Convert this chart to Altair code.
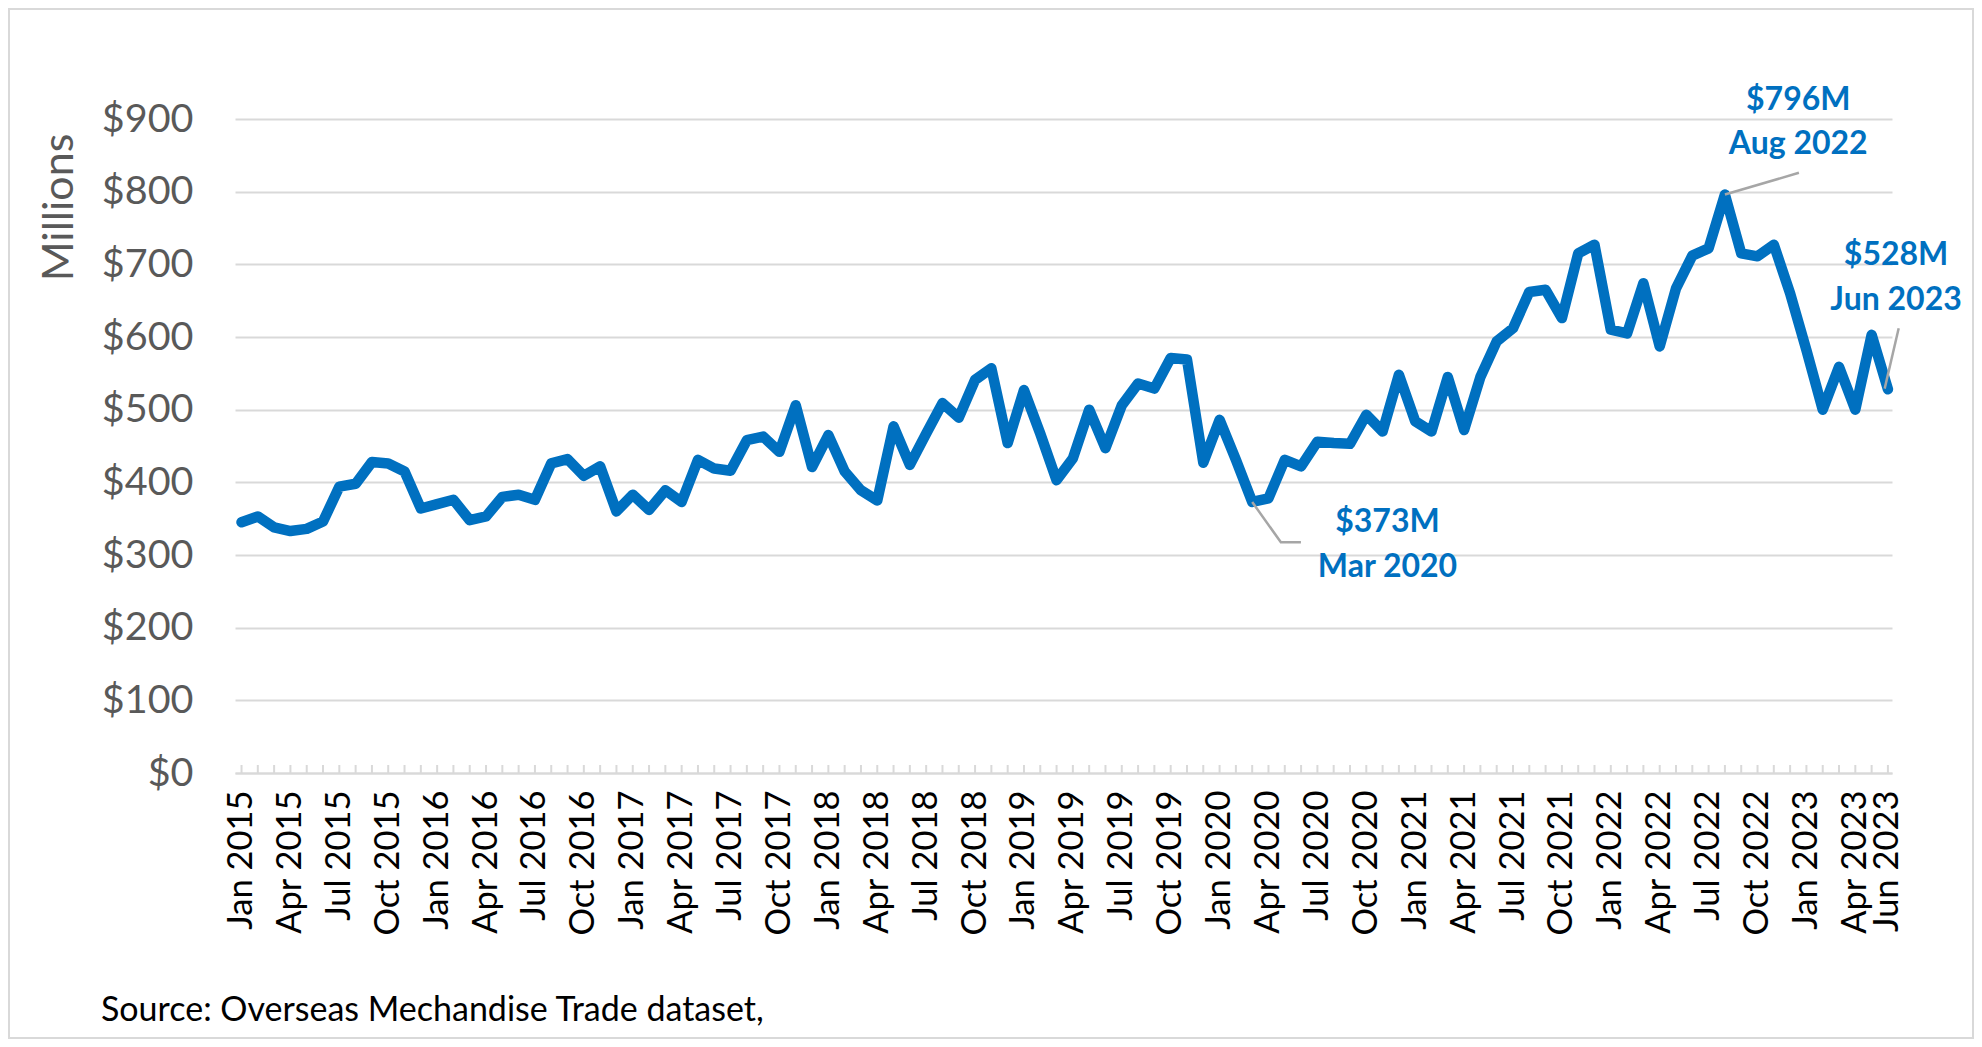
import altair as alt
import pandas as pd

# ---------------- data ----------------
MONTH_ABBR = ["Jan", "Feb", "Mar", "Apr", "May", "Jun",
              "Jul", "Aug", "Sep", "Oct", "Nov", "Dec"]
months = [f"{m} {y}" for y in range(2015, 2024) for m in MONTH_ABBR][:102]

values = [
    345, 353, 338, 333, 336, 346, 394, 398, 428, 426, 415, 364,   # 2015
    370, 376, 348, 353, 380, 383, 376, 426, 432, 409, 422, 360,   # 2016
    383, 362, 389, 373, 431, 419, 416, 458, 463, 442, 506, 421,   # 2017
    465, 415, 389, 375, 477, 424, 467, 509, 489, 541, 557, 454,   # 2018
    527, 467, 403, 433, 500, 447, 506, 536, 529, 571, 569, 427,   # 2019
    486, 431, 373, 378, 431, 422, 456, 454, 453, 493, 470, 548,   # 2020
    484, 470, 545, 472, 545, 594, 612, 662, 665, 626, 715, 727,   # 2021
    610, 605, 674, 587, 667, 712, 722, 796, 715, 711, 727, 660,   # 2022
    582, 500, 559, 500, 603, 528,                                 # 2023
]

tick_positions = list(range(0, 102, 3)) + [101]
y_ticks = [0, 100, 200, 300, 400, 500, 600, 700, 800, 900]

# annotations (text positions in data units)
ann_idx = [95.5, 95.5, 101.5, 101.5, 70.3, 70.3]
ann_val = [926, 866, 713, 651, 345, 284]
ann_label = ["$796M", "Aug 2022", "$528M", "Jun 2023", "$373M", "Mar 2020"]

# leader lines (data units)
leader_group = ["aug", "aug", "jun", "jun", "mar", "mar", "mar"]
leader_order = [0, 1, 0, 1, 0, 1, 2]
leader_idx = [91, 95.54, 100.8, 101.66, 62, 63.76, 64.99]
leader_val = [796, 826, 529, 612, 373, 317.5, 317.5]

source_text = "Source: Overseas Mechandise Trade dataset,"

# ---------------- layout ----------------
W, H = 1657, 654
PAD = {"left": 227, "top": 111, "right": 82, "bottom": 266}
FONT = "Lato"
BLUE = "#0070C0"
GRID = "#d9d9d9"

df = pd.DataFrame({"idx": list(range(len(values))), "value": values,
                   "month": months})
ann_df = pd.DataFrame({"idx": ann_idx, "value": ann_val, "label": ann_label})
lead_df = pd.DataFrame({"idx": leader_idx, "value": leader_val,
                        "grp": leader_group, "ord": leader_order})

label_expr = "[" + ",".join(f"'{m}'" for m in months) + "][datum.value]"

x_scale = alt.Scale(domain=[-0.4, 101.25], nice=False, zero=False)
y_scale = alt.Scale(domain=[0, 900], nice=False)

x_axis = alt.Axis(
    values=tick_positions, labelExpr=label_expr, labelAngle=270,
    grid=False, ticks=False, tickSize=0, domain=True,
    domainColor=GRID, domainWidth=2, labelFont=FONT, labelFontSize=34.5,
    labelColor="#000000", labelPadding=17, labelOverlap=False,
    labelBound=False, labelFlush=False, title=None,
)
y_axis = alt.Axis(
    values=y_ticks, labelExpr="'$' + datum.value", grid=True,
    gridColor=GRID, gridWidth=2, domain=False, ticks=False, tickSize=0,
    labelFont=FONT, labelFontSize=39.5, labelColor="#595959",
    labelPadding=42, title="Millions", titleFont=FONT, titleFontSize=43,
    titleFontWeight="normal", titleColor="#595959", titleAngle=270,
    titleX=-176, titleY=88, titleAlign="center", titleBaseline="middle",
)

base = alt.Chart(df).encode(
    x=alt.X("idx:Q", scale=x_scale, axis=x_axis),
    y=alt.Y("value:Q", scale=y_scale, axis=y_axis),
)

month_ticks = alt.Chart(df).mark_rule(color=GRID, strokeWidth=2).encode(
    x=alt.X("idx:Q", scale=x_scale),
    y=alt.value(H - 8),
    y2=alt.value(H),
)

line = base.mark_line(color=BLUE, strokeWidth=10.5, strokeJoin="round",
                      strokeCap="round")

leaders = alt.Chart(lead_df).mark_line(color="#a6a6a6", strokeWidth=2.5).encode(
    x=alt.X("idx:Q", scale=x_scale),
    y=alt.Y("value:Q", scale=y_scale),
    detail="grp:N",
    order="ord:Q",
)

ann_text = alt.Chart(ann_df).mark_text(
    font=FONT, fontSize=32, fontWeight="bold", color=BLUE,
    align="center", baseline="middle",
).encode(
    x=alt.X("idx:Q", scale=x_scale),
    y=alt.Y("value:Q", scale=y_scale),
    text="label:N",
)

source = alt.Chart(pd.DataFrame({"t": [source_text]})).mark_text(
    font=FONT, fontSize=34, color="#000000", align="left", baseline="middle",
).encode(
    x=alt.value(-134), y=alt.value(892), text="t:N",
)

border = alt.Chart(pd.DataFrame({"b": [1]})).mark_rect(
    fillOpacity=0, stroke=GRID, strokeWidth=2,
).encode(
    x=alt.value(-PAD["left"] + 1), x2=alt.value(W + PAD["right"] - 1),
    y=alt.value(-PAD["top"] + 1), y2=alt.value(H + PAD["bottom"] - 1),
)

chart = alt.layer(
    month_ticks, line, leaders, ann_text, source, border
).properties(
    width=W, height=H, padding=PAD,
    autosize=alt.AutoSizeParams(type="none"),
    background="white",
).configure_view(strokeWidth=0)

chart.save("out.html", embed_options={"renderer": "svg", "actions": False})
